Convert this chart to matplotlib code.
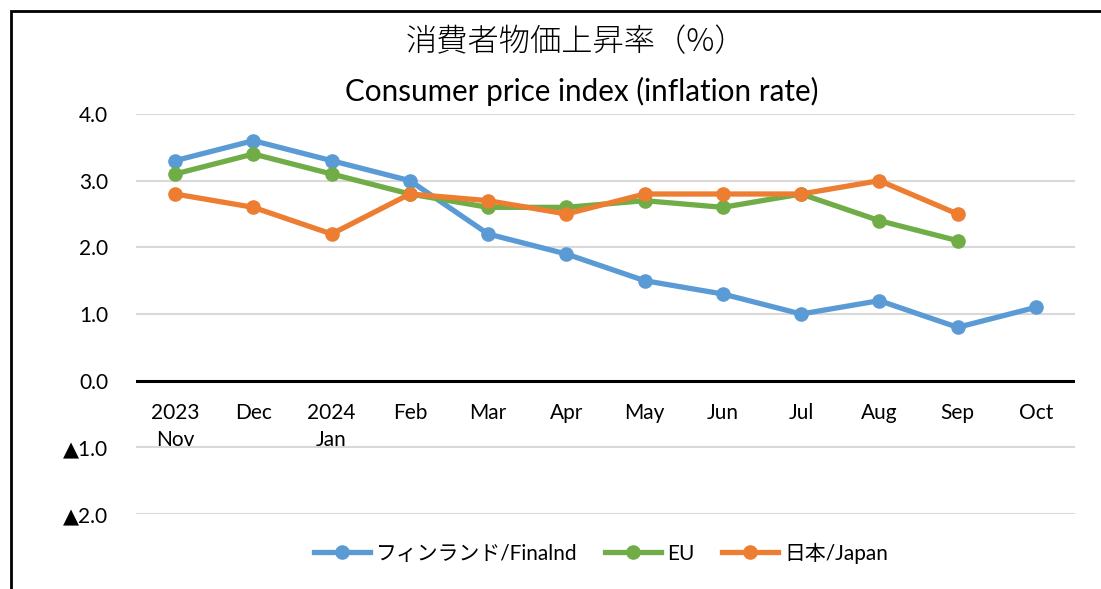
import matplotlib.pyplot as plt
from matplotlib.patches import Rectangle

plt.rcParams['font.family'] = ['Lato', 'Noto Sans CJK JP', 'DejaVu Sans']

months = ['2023\nNov', 'Dec', '2024\nJan', 'Feb', 'Mar', 'Apr', 'May', 'Jun', 'Jul', 'Aug', 'Sep', 'Oct']
finland = [3.3, 3.6, 3.3, 3.0, 2.2, 1.9, 1.5, 1.3, 1.0, 1.2, 0.8, 1.1]
eu = [3.1, 3.4, 3.1, 2.8, 2.6, 2.6, 2.7, 2.6, 2.8, 2.4, 2.1]
japan = [2.8, 2.6, 2.2, 2.8, 2.7, 2.5, 2.8, 2.8, 2.8, 3.0, 2.5]
yticks = [-2, -1, 0, 1, 2, 3, 4]
ylabels = ['▲2.0', '▲1.0', '0.0', '1.0', '2.0', '3.0', '4.0']

fig = plt.figure(figsize=(11.01, 5.89), dpi=100)
ax = fig.add_axes([136 / 1101, 1 - 514 / 589, 939 / 1101, 400 / 589])

series = [
    (finland, '#5B9BD5', 'フィンランド/Finalnd'),
    (eu, '#70AD47', 'EU'),
    (japan, '#ED7D31', '日本/Japan'),
]
for vals, col, lab in series:
    ax.plot(range(len(vals)), vals, color=col, lw=3.8, marker='o', ms=9.5,
            label=lab, solid_joinstyle='round', zorder=3)

ax.set_xlim(-0.5, 11.5)
ax.set_ylim(-2, 4)
ax.set_yticks(yticks)
ax.set_yticklabels(ylabels)
for t in ax.get_yticklabels():
    t.set_fontfamily(['Lato', 'DejaVu Sans'])
ax.tick_params(axis='y', length=0, labelsize=15, pad=20)
ax.set_xticks([])
ax.grid(axis='y', color='#D9D9D9', lw=1.5)
ax.axhline(0, color='black', lw=2.2, zorder=2)
for s in ax.spines.values():
    s.set_visible(False)

# month labels sit under the zero line, not at the bottom of the axes
for i, m in enumerate(months):
    ax.text(i, -0.33, m, ha='center', va='top', fontsize=15, linespacing=1.45)

fig.text(0.523, 1 - 42 / 589, '消費者物価上昇率（%）', ha='center', va='center',
         fontsize=22.5, family=['Noto Sans CJK JP'], fontweight='light')
fig.text(0.528, 1 - 91 / 589, 'Consumer price index (inflation rate)', ha='center',
         va='center', fontsize=21.3)

fig.legend(loc='center', bbox_to_anchor=(0.546, 1 - 553 / 589), ncol=3, frameon=False,
           handlelength=2.7, columnspacing=1.3, handletextpad=0.3,
           prop={'family': ['Lato', 'Noto Sans CJK JP'], 'size': 15})

fig.patches.append(Rectangle((11 / 1101, -0.1), 1.2, 1 - 11 / 589 + 0.1,
                             transform=fig.transFigure, fill=False, ec='black', lw=2))

fig.savefig('out.png', dpi=100)
